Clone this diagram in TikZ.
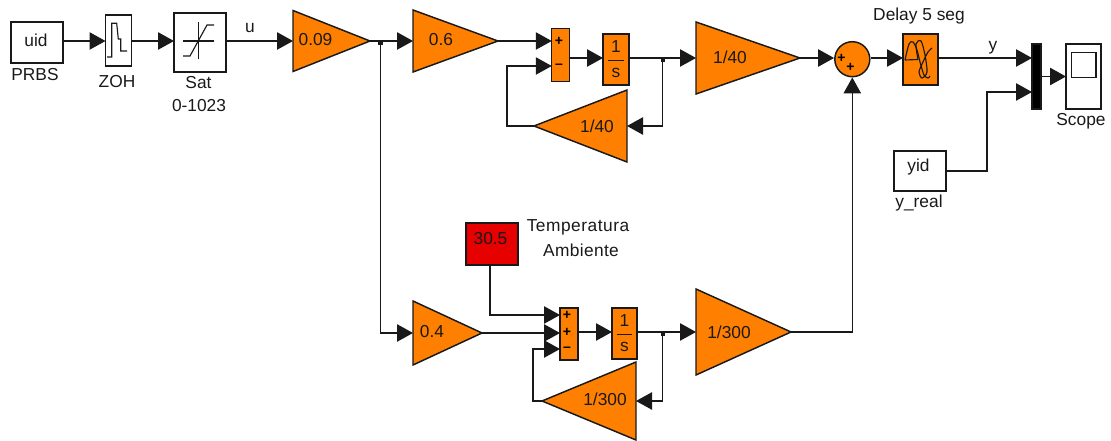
\documentclass[tikz,border=0pt]{standalone}
\usepackage{fontspec}
\setmainfont{Liberation Sans}
\usetikzlibrary{arrows.meta,shapes.geometric}
\definecolor{simorange}{RGB}{255,128,0}
\definecolor{simred}{RGB}{230,0,0}
\definecolor{siminkk}{RGB}{25,25,25}
\newcommand{\oneovers}{$\displaystyle{\mbox{\,1\,\rule[-2.5pt]{0pt}{0pt}}\above 0.9pt\mbox{\rule{0pt}{10pt}s}}$}
\tikzset{every picture/.style={line width=1.1pt}}
\tikzset{
  blockbox/.style 2 args={draw=siminkk,rectangle,inner sep=0pt,outer sep=0pt,minimum width=0.75*#1pt,minimum height=0.75*#2pt},
  orangebox/.style 2 args={blockbox={#1}{#2},fill=simorange},
  gainbox/.style 2 args={draw=siminkk,fill=simorange,isosceles triangle,isosceles triangle stretches,inner sep=0pt,outer sep=0pt,anchor=lower side,minimum height=0.75*#1pt,minimum width=0.75*#2pt},
  txt/.style={font=\fontsize{13}{15}\selectfont,text=siminkk,inner sep=0.75pt},
  sgn/.style={font=\fontsize{10.5}{11}\selectfont\bfseries,text=black,inner sep=0pt},
  wire/.style={draw=siminkk},
  sig/.style={wire,-{Triangle[length=12pt,width=13pt]}},
  icon/.style={draw=siminkk,line width=0.85pt},
  dot/.style={fill=siminkk,inner sep=0pt,minimum size=3.5pt,rectangle}
}
\begin{document}
\begin{tikzpicture}[x=0.75pt,y=0.75pt,yscale=-1,xscale=1]
\useasboundingbox (0,0) rectangle (1111,441);

%Shape: top row blocks
\node (uid) [blockbox={52}{41}] at (37,42.5) {};
\node (zoh) [blockbox={26}{51}] at (118.5,40.5) {};
\node (sat) [blockbox={52}{59}] at (200,42.5) {};
\node (gainA) [gainbox={77}{61}] at (293,41) {};
\node (gainB) [gainbox={85}{62}] at (413,41) {};
\node (sumA) [orangebox={17.5}{53}] at (560.5,55) {};
\node (intA) [orangebox={26}{51}] at (616,59.5) {};
\node (gainC) [gainbox={104}{72}] at (696,58) {};
\node (backA) [gainbox={93}{72},shape border rotate=180] at (627,126) {};
\node (add) [circle,draw=siminkk,fill=simorange,inner sep=0pt,minimum size=26.25pt] at (852.3,59.2) {};
\node (delay) [orangebox={35}{51}] at (920.5,59.5) {};
\node (mux) [blockbox={9}{65},fill=black] at (1036.5,76.5) {};
\node (scope) [blockbox={35}{65}] at (1083.5,76.5) {};
\node (yid) [blockbox={52}{40}] at (920,171) {};
%Shape: bottom row blocks
\node (temp) [blockbox={52}{42},fill=simred] at (492,244) {};
\node (gainD) [gainbox={69}{64}] at (413,333) {};
\node (sumB) [orangebox={18}{52}] at (569,334) {};
\node (intB) [orangebox={25}{51}] at (624.5,333.5) {};
\node (gainE) [gainbox={95}{86}] at (696,332) {};
\node (backB) [gainbox={94}{78},shape border rotate=180] at (636,401) {};

%Shape: block icons
\draw [icon] (107,57) -- (111.7,57) -- (111.7,23.3) -- (116.7,23.3) -- (118.3,39) -- (120.7,39) -- (120.7,51) -- (127,51) ;
\draw [icon] (183,41) -- (214,41) (198.3,22) -- (198.3,59) ;
\draw [icon] (183,56) -- (190,56) -- (207,25) -- (214,25) ;
\draw [icon] plot [smooth] coordinates {(905,60) (909,44) (913,42) (917,50) (920,62) (924,75) (928,78) (930,76)} ;
\draw [icon] (905,60) -- (918,59.5) ;
\draw [icon] plot [smooth] coordinates {(918,59.5) (916,44) (921,41) (925,55) (927,72) (922,78) (919,72) (923,62) (928,52) (932,48)} ;
\draw [icon] (1071.7,52.7) rectangle (1096,77.3) ;

%Straight Lines
\coordinate (uidout) at (63,41) ;
\draw [sig] (uidout) -- (uidout -| zoh.west) ;
\draw [sig] (zoh.east |- uidout) -- (uidout -| sat.west) ;
\draw [sig] (sat.east |- gainA.lower side) -- (gainA.lower side) ;
\draw [sig] (gainA.apex) -- (gainB.lower side) ;
\draw [sig] (gainB.apex) -- (gainB.apex -| sumA.west) ;
\draw [sig] (sumA.east |- gainC.lower side) -- (intA.west |- gainC.lower side) ;
\draw [sig] (intA.east |- gainC.lower side) -- (gainC.lower side) ;
\draw [sig] (gainC.apex) -- (add.west |- gainC.apex) ;
\draw [sig] (add.east |- gainC.apex) -- (delay.west |- gainC.apex) ;
\draw [sig] (delay.east |- gainC.apex) -- (mux.west |- gainC.apex) ;
\draw [sig] (mux.east) -- (scope.west) ;
\coordinate (yidup) at (987,92) ;
\draw [sig] (yid.east) -| (yidup) -- (yidup -| mux.west) ;
\coordinate (jointA) at (380.5,41) ;
\node (dotA) [dot] at (380.5,43) {};
\draw [sig] (jointA) |- (gainD.lower side) ;
\coordinate (jointB) at (662.5,58) ;
\node (dotB) [dot] at (663,60) {};
\draw [sig] (jointB) |- (backA.lower side) ;
\coordinate (loopA) at (507,66) ;
\draw [sig] (backA.apex) -| (loopA) -- (loopA -| sumA.west) ;
\coordinate (tempdown) at (490,315) ;
\draw [sig] (temp.south -| tempdown) -- (tempdown) -- (tempdown -| sumB.west) ;
\draw [sig] (gainD.apex) -- (gainD.apex -| sumB.west) ;
\draw [sig] (sumB.east |- gainE.lower side) -- (intB.west |- gainE.lower side) ;
\draw [sig] (intB.east |- gainE.lower side) -- (gainE.lower side) ;
\coordinate (jointC) at (662.5,332) ;
\node (dotC) [dot] at (663,334) {};
\draw [sig] (jointC) |- (backB.lower side) ;
\coordinate (loopB) at (533,349) ;
\draw [sig] (backB.apex) -| (loopB) -- (loopB -| sumB.west) ;
\draw [sig] (gainE.apex) -| (add.south) ;

% Text Node
\node (uidtxt) [txt] at (36,40) {uid};
\node (prbs) [txt] at (35,75) {PRBS};
\node (zohtxt) [txt] at (117,82) {ZOH};
\node (sattxt) [txt] at (198.5,83) {Sat};
\node (range) [txt] at (199,106) {0-1023};
\node (utxt) [txt] at (250,28) {u};
\node (gainAtxt) [txt] at (315.5,40) {0.09};
\node (gainBtxt) [txt] at (441,40) {0.6};
\node (gainCtxt) [txt] at (730,57) {1/40};
\node (backAtxt) [txt] at (597,126) {1/40};
\node (intAtxt) [txt] at (616,59.5) {\oneovers};
\node (sumAp) [sgn] at (559,41) {+};
\node (sumAm) [sgn] at (559,66) {--};
\node (addp) [sgn] at (841.5,58) {+};
\node (addq) [sgn] at (850.5,67) {+};
\node (delaytxt) [txt] at (919,16) {Delay 5 seg};
\node (ytxt) [txt] at (993,48) {y};
\node (scopetxt) [txt] at (1081,121) {Scope};
\node (yidtxt) [txt] at (918.5,167) {yid};
\node (yreal) [txt] at (919,203) {y\_real};
\node (temptxt) [txt] at (490.5,239) {30.5};
\node (tempA) [txt] at (578,227) {\addfontfeature{LetterSpace=3}Temperatura};
\node (tempB) [txt] at (581,250) {\addfontfeature{LetterSpace=2}Ambiente};
\node (gainDtxt) [txt] at (432,332) {0.4};
\node (gainEtxt) [txt] at (729,332) {1/300};
\node (backBtxt) [txt] at (605,399) {1/300};
\node (intBtxt) [txt] at (624.5,333.5) {\oneovers};
\node (sumBp) [sgn] at (567,315) {+};
\node (sumBq) [sgn] at (567,332) {+};
\node (sumBm) [sgn] at (567,349) {--};

\end{tikzpicture}
\end{document}
